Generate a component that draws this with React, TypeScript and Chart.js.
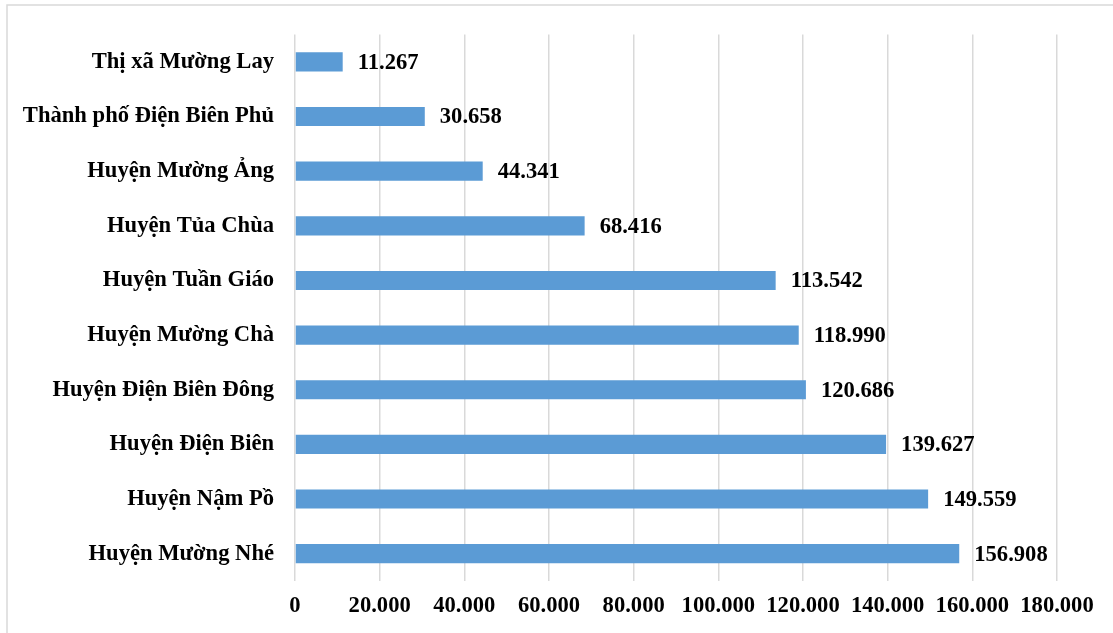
import React, { useEffect, useRef } from "react";
import { Chart, registerables } from "chart.js";

Chart.register(...registerables);

const categories: string[] = [
  "Thị xã Mường Lay",
  "Thành phố Điện Biên Phủ",
  "Huyện Mường Ảng",
  "Huyện Tủa Chùa",
  "Huyện Tuần Giáo",
  "Huyện Mường Chà",
  "Huyện Điện Biên Đông",
  "Huyện Điện Biên",
  "Huyện Nậm Pồ",
  "Huyện Mường Nhé",
];

const values: number[] = [11267, 30658, 44341, 68416, 113542, 118990, 120686, 139627, 149559, 156908];

const xMin = 0;
const xMax = 180000;
const xStep = 20000;

const fmt = (v: number): string =>
  Math.round(v)
    .toString()
    .replace(/\B(?=(\d{3})+(?!\d))/g, ".");

const FONT = "'Liberation Serif', 'Times New Roman', serif";
const FSIZE = 22.6;

export default function App() {
  const ref = useRef<HTMLCanvasElement | null>(null);

  useEffect(() => {
    document.body.style.margin = "0";
    document.body.style.overflow = "hidden";
    const canvas = ref.current;
    if (!canvas) return;

    const borderPlugin = {
      id: "outerBorder",
      beforeDraw(chart: any) {
        const ctx = chart.ctx;
        ctx.save();
        ctx.fillStyle = "#ffffff";
        ctx.fillRect(0, 0, chart.width, chart.height);
        ctx.strokeStyle = "#d9d9d9";
        ctx.lineWidth = 1.5;
        ctx.beginPath();
        ctx.moveTo(7, chart.height);
        ctx.lineTo(7, 5);
        ctx.lineTo(chart.width, 5);
        ctx.stroke();
        ctx.restore();
      },
    };

    const labelPlugin = {
      id: "valueLabels",
      afterDatasetsDraw(chart: any) {
        const ctx = chart.ctx;
        const meta = chart.getDatasetMeta(0);
        ctx.save();
        ctx.font = `bold ${FSIZE}px ${FONT}`;
        ctx.fillStyle = "#000000";
        ctx.textAlign = "left";
        ctx.textBaseline = "middle";
        meta.data.forEach((bar: any, i: number) => {
          ctx.fillText(fmt(values[i]), bar.x + 15, bar.y + 1);
        });
        ctx.restore();
      },
    };

    const chart = new Chart(canvas, {
      type: "bar",
      data: {
        labels: categories,
        datasets: [
          {
            data: values,
            backgroundColor: "#5B9BD5",
            borderWidth: 0,
            categoryPercentage: 1,
            barPercentage: 0.35,
          },
        ],
      },
      options: {
        indexAxis: "y",
        animation: false,
        responsive: false,
        maintainAspectRatio: false,
        layout: { padding: { top: 33, right: 56, left: 0, bottom: 0 } },
        plugins: {
          legend: { display: false },
          tooltip: { enabled: false },
        },
        scales: {
          x: {
            min: xMin,
            max: xMax,
            ticks: {
              stepSize: xStep,
              color: "#000000",
              font: { family: FONT, size: FSIZE, weight: "bold" },
              padding: 12,
              maxRotation: 0,
              autoSkip: false,
              callback: (v: any) => fmt(Number(v)),
            },
            grid: {
              color: "#d9d9d9",
              lineWidth: 1.5,
              drawTicks: false,
            },
            border: { display: false },
            afterFit: (scale: any) => {
              scale.height = 52;
            },
          },
          y: {
            ticks: {
              color: "#000000",
              font: { family: FONT, size: FSIZE, weight: "bold" },
              padding: 21,
              autoSkip: false,
            },
            grid: { display: false, drawTicks: false },
            border: { display: false },
            afterFit: (scale: any) => {
              scale.width = 295;
            },
          },
        },
      },
      plugins: [borderPlugin, labelPlugin],
    });

    return () => chart.destroy();
  }, []);

  return (
    <div style={{ position: "relative", width: 1113, height: 633 }}>
      <canvas ref={ref} width={1113} height={633} style={{ display: "block" }} />
    </div>
  );
}
